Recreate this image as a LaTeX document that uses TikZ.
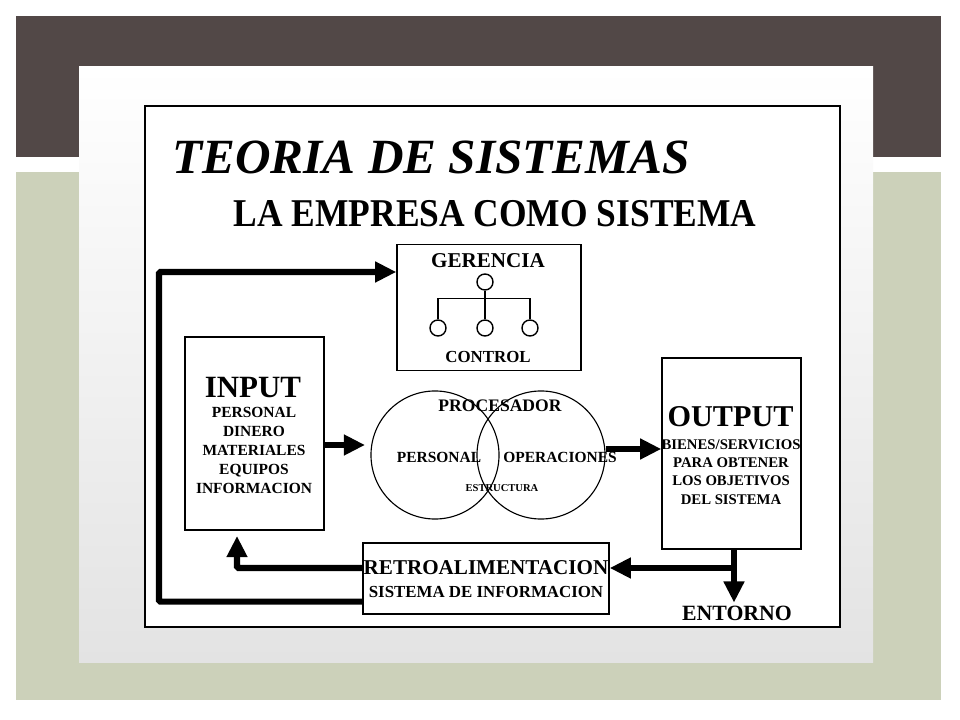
\documentclass[tikz,border=0pt]{standalone}
\usepackage{fontspec}
\setmainfont{Liberation Serif}
\usepackage{tikz}
\usetikzlibrary{arrows.meta,positioning,calc}
\definecolor{rahmenbraun}{HTML}{524847}
\definecolor{salbei}{HTML}{CCD1BA}
\definecolor{paneelgrau}{HTML}{E3E3E3}
\newcommand{\schrift}[2]{\fontsize{#1}{#2}\selectfont\bfseries}
\tikzstyle{block} = [draw, rectangle,
	line width=1pt,
	inner sep=0pt
	]
\tikzstyle{pfeil} = [draw,
	-{Triangle[length=15pt,width=14pt]}, line width=4.3pt, rounded corners=1pt
	]
\tikzstyle{kreis} = [draw, circle,
	line width=0.8pt,
	inner sep=0pt,
	minimum size=3.2cm]
\tikzstyle{punkt} = [draw, circle,
	line width=1pt,
	inner sep=0pt,
	minimum size=0.4cm]
\tikzstyle{schild} = [inner sep=0pt, align=center]

\begin{document}
\begin{tikzpicture}[x=0.025cm, y=-0.025cm]
    \useasboundingbox (0,0) rectangle (960,720);
    \fill[rahmenbraun] (16,16) rectangle (941,157);
    \fill[salbei] (16,172) rectangle (941,700);
    \shade[top color=white, bottom color=paneelgrau] (79,67) rectangle (873,662);
    \draw[fill=white, line width=1pt] (145,106) rectangle (840,627);

    \node [schild, font=\schrift{35pt}{40pt}\itshape] (titel) at (431,157) {TEORIA DE SISTEMAS};
    \node [schild, font=\schrift{28pt}{33pt}] (untertitel) at (495,214) {\scalebox{0.9}[1]{LA EMPRESA COMO SISTEMA}};

    \node [block, minimum width=4.6cm, minimum height=3.15cm] (gerencia) at (489,307.5) {};
    \node [schild, font=\schrift{15pt}{18pt}] (gerencia text) at (488,261) {GERENCIA};
    \node [schild, font=\schrift{12pt}{14pt}] (control) at (488,357) {CONTROL};
    \node [punkt] (g0) at (485,282) {};
    \node [punkt] (g1) at (438,328) {};
    \node [punkt] (g2) at (485,328) {};
    \node [punkt] (g3) at (530,328) {};
    \draw [line width=1pt] (g0) -- (g2);
    \draw [line width=1pt] (g1.north) -- ++(0,-21) -| (g3.north);

    \node [block, minimum width=3.475cm, minimum height=4.825cm] (input) at (254.5,433.5) {};
    \node [schild, font=\schrift{22pt}{26pt}] (input titel) at (253,388) {INPUT};
    \node [schild, font=\schrift{11pt}{13.5pt}] (input text) at (254,450.5)
    	{PERSONAL\\DINERO\\MATERIALES\\EQUIPOS\\INFORMACION};

    \node [kreis] (pers) at (435,455) {};
    \node [kreis] (oper) at (541,455) {};
    \node [schild, font=\schrift{12.5pt}{15pt}] (procesador) at (500,406) {PROCESADOR};
    \node [schild, font=\schrift{11pt}{13pt}] (personal) at (439,457) {PERSONAL};
    \node [schild, font=\schrift{11pt}{13pt}] (operaciones) at (560,457) {OPERACIONES};
    \node [schild, font=\schrift{7.5pt}{9pt}] (estructura) at (502,488) {ESTRUCTURA};

    \node [block, minimum width=3.475cm, minimum height=4.775cm] (output) at (731.5,453.5) {};
    \node [schild, font=\schrift{21.5pt}{25pt}] (output titel) at (730.5,417) {OUTPUT};
    \node [schild, font=\schrift{10.5pt}{12.9pt}] (output text) at (731,472)
    	{BIENES/SERVICIOS\\PARA OBTENER\\LOS OBJETIVOS\\DEL SISTEMA};

    \node [block, minimum width=6.15cm, minimum height=1.775cm] (retro) at (486,578.5) {};
    \node [schild, font=\schrift{15pt}{18pt}] (retro titel) at (486,568) {RETROALIMENTACION};
    \node [schild, font=\schrift{12pt}{14pt}] (retro text) at (486,592) {SISTEMA DE INFORMACION};

    \node [schild, font=\schrift{15.5pt}{18pt}] (entorno) at (737,613) {ENTORNO};

    \draw [pfeil] (input.east |- 0,445) -- (365,445);
    \draw [pfeil] (oper.east |- 0,449) -- (output.west |- 0,449);
    \coordinate (abzweig) at (734,568);
    \draw [pfeil] (output.south -| abzweig) -- ([yshift=2pt]entorno.north -| abzweig);
    \draw [pfeil] (abzweig) -- (retro.east |- abzweig);
    \draw [pfeil] ($(retro.west)+(0,-10.5)$) -| (237,536);
    \draw [pfeil] ($(retro.south west)+(0,-13)$) -| (159,272)
    	-- (gerencia.west |- 0,272);
\end{tikzpicture}
\end{document}
